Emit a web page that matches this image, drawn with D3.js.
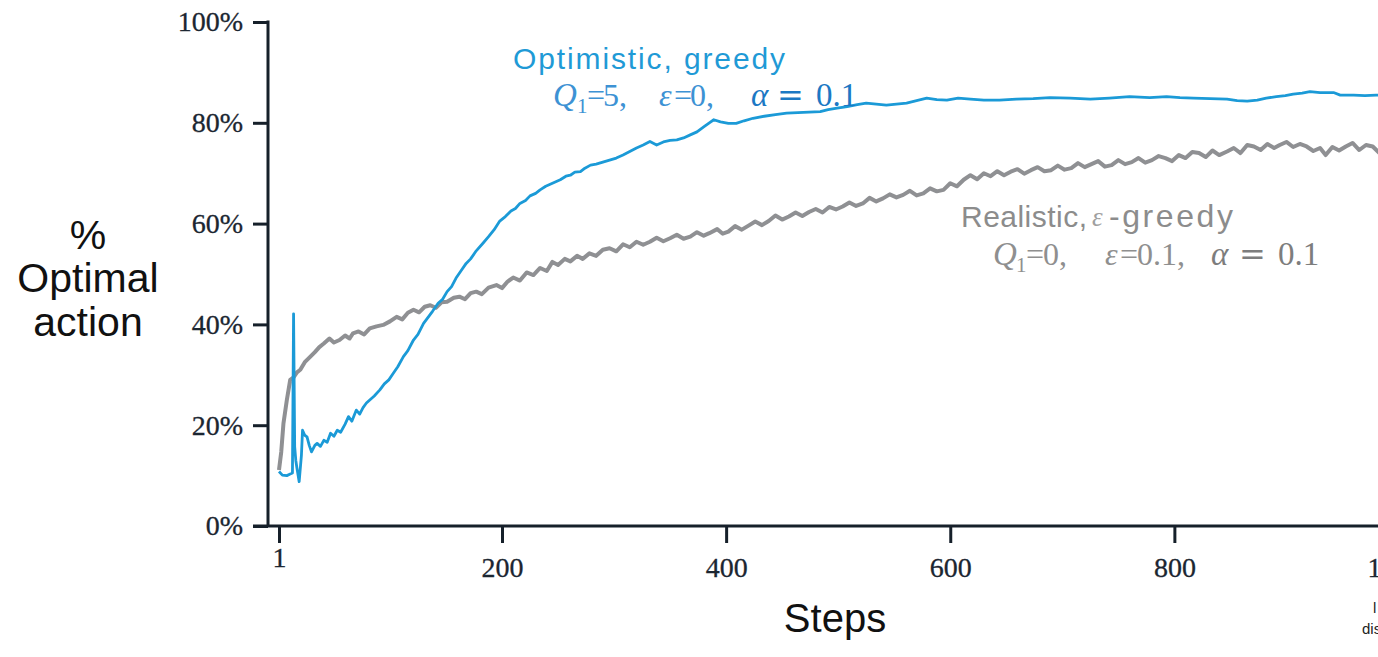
<!DOCTYPE html>
<html>
<head>
<meta charset="utf-8">
<script src="https://cdn.jsdelivr.net/npm/d3@7"></script>
<style>
body { margin: 0; background: #fff; }
svg { display: block; }
</style>
</head>
<body>
<svg></svg>
<script>
// ---- data (steps, % optimal action) ----
var optSteps = [1,4,8,11,13,14,15,16,17,19,21,22,24,26,28,30,33,35,38,41,44,47,50,53,56,60,63,66,70,73,76,79,82,86,91,95,99,103,107,112,116,121,125,130,134,138,143,147,151,155,159,163,168,172,177,183,188,193,198,203,208,212,216,221,225,230,234,239,243,248,252,257,261,265,270,274,279,284,290,296,302,308,314,320,326,332,338,344,350,356,362,368,374,380,385,389,395,402,409,416,424,434,444,454,464,474,484,491,499,508,517,525,534,543,552,561,570,579,588,597,607,618,630,644,659,674,689,707,725,742,760,778,793,805,817,832,847,856,865,874,882,891,899,906,914,921,930,942,948,960,970,980,990,1000];
var optVals = [10.8,10.1,10.0,10.3,10.5,42.1,15.7,13.0,11.5,8.8,14.0,19.0,18.0,17.7,16.0,14.7,16.0,16.4,15.8,17.0,16.6,18.4,17.8,19.0,18.6,20.2,21.7,20.8,23.0,22.2,23.5,24.4,25.0,25.8,27.0,28.2,29.0,30.3,31.6,33.6,34.8,36.9,38.0,40.2,41.4,42.6,44.2,45.0,46.5,47.5,49.2,50.5,52.1,53.0,54.6,56.1,57.4,58.8,60.5,61.4,62.5,63.0,64.0,64.6,65.5,66.0,66.7,67.4,67.8,68.3,68.7,69.4,69.6,70.2,70.3,71.0,71.6,71.8,72.2,72.6,73.0,73.6,74.3,75.0,75.6,76.3,75.6,76.2,76.5,76.6,77.0,77.6,78.2,79.2,80.0,80.6,80.2,79.9,79.9,80.4,80.9,81.3,81.6,81.9,82.0,82.1,82.2,82.6,82.9,83.2,83.6,83.9,83.7,83.5,83.7,83.9,84.4,84.9,84.6,84.5,84.9,84.7,84.5,84.5,84.7,84.8,85.0,84.9,84.7,84.9,85.2,85.0,85.2,85.0,84.9,84.8,84.7,84.4,84.3,84.5,84.9,85.2,85.4,85.7,85.9,86.2,86.0,86.0,85.5,85.5,85.4,85.5,85.4,85.5];

var realSteps = [1,3,5,8,11,14,17,20,24,29,33,37,41,46,50,55,60,64,67,72,77,82,88,94,100,106,111,116,121,126,131,136,141,146,151,157,162,167,172,177,182,188,195,200,205,210,216,222,228,234,240,245,250,256,261,267,272,278,284,290,296,302,308,314,320,326,332,338,344,350,356,362,368,374,380,385,392,397,402,408,414,420,426,432,438,444,450,456,462,468,474,480,486,492,498,504,510,516,522,528,534,540,546,552,558,564,570,576,582,588,594,600,606,612,618,624,630,636,642,648,654,660,666,672,678,684,690,696,702,708,714,720,726,732,738,744,750,756,762,768,774,780,786,792,798,804,810,816,822,828,834,840,847,853,859,865,871,877,883,889,894,900,906,912,918,924,930,935,941,947,953,959,965,971,977,983,989,995,1000];
var realVals = [11.1,14.7,20.4,25.0,29.0,29.5,30.5,31.0,32.5,33.6,34.5,35.5,36.2,37.2,36.4,36.9,37.8,37.2,38.2,38.6,38.0,39.2,39.6,39.9,40.6,41.5,41.0,42.3,42.9,42.4,43.5,43.8,43.3,44.4,44.5,45.3,45.5,45.0,46.2,46.5,46.0,47.3,47.8,47.2,48.5,49.3,48.7,50.3,49.8,51.2,50.6,52.4,51.8,53.0,52.5,53.6,53.0,54.1,53.6,54.8,55.1,54.5,55.9,55.3,56.4,55.8,56.4,57.2,56.5,57.1,57.8,57.0,57.4,58.3,57.6,58.1,58.9,58.0,58.4,59.5,58.8,59.6,60.4,59.7,60.5,61.6,60.8,61.4,62.2,61.5,62.3,62.9,62.2,63.3,62.8,63.4,64.2,63.5,64.0,65.1,64.4,65.0,65.8,65.2,65.7,66.5,65.6,66.0,67.0,66.4,66.7,68.0,67.4,68.7,69.6,68.8,70.0,69.4,70.4,69.6,70.3,70.8,69.9,70.6,71.2,70.4,70.6,71.5,70.7,71.0,72.0,71.2,71.8,72.4,71.3,71.6,72.6,71.8,72.2,73.0,72.1,72.6,73.4,73.0,72.4,73.6,73.0,74.2,74.0,73.2,74.5,73.6,74.3,75.0,74.0,75.6,75.3,74.6,75.8,75.0,75.6,76.2,75.2,75.8,75.3,74.4,75.0,73.6,75.2,74.5,75.3,76.0,74.6,75.6,75.3,74.0,75.5,74.8,75.2];

var yTicks = [0, 20, 40, 60, 80, 100];
var xTicks = [1, 200, 400, 600, 800, 1000];

var width = 1378;
var height = 657;
var axisColor = "#16202a";
var blue = "#1b9ad7";
var grey = "#8f9093";

var svg = d3.select("svg")
            .attr("width", width)
            .attr("height", height)

var x = d3.scaleLinear().domain([1, 1000]).range([279, 1398.5]);
var y = d3.scaleLinear().domain([0, 100]).range([526, 22]);
var axisX = 268;

// y axis
var yAxis = svg.append("g")
    .attr("transform", "translate(" + axisX + ",0)")
    .call(d3.axisLeft(y).tickValues(yTicks).tickFormat(function(d) { return d + "%"; })
          .tickSize(15).tickPadding(10).tickSizeOuter(0))
yAxis.select(".domain").remove();
yAxis.selectAll("line").attr("stroke", axisColor).attr("stroke-width", 3);
yAxis.selectAll("text")
    .style("font-family", "Liberation Serif")
    .style("font-size", "28px")
    .attr("fill", "#1b2631")
    .attr("stroke", "#1b2631").attr("stroke-width", 0.3)

// x axis
var xAxis = svg.append("g")
    .attr("transform", "translate(0," + y(0) + ")")
    .call(d3.axisBottom(x).tickValues(xTicks).tickSize(17).tickPadding(14).tickSizeOuter(0))
xAxis.select(".domain").remove();
xAxis.selectAll("line").attr("stroke", axisColor).attr("stroke-width", 3);
xAxis.selectAll("text")
    .style("font-family", "Liberation Serif")
    .style("font-size", "28px")
    .attr("fill", "#1b2631")
    .attr("stroke", "#1b2631").attr("stroke-width", 0.3)
    .attr("y", function(d) { return d == 1 ? 21 : 31; })

// axis lines
svg.append("line")
    .attr("x1", axisX).attr("x2", axisX)
    .attr("y1", y(100) - 1.5).attr("y2", y(0))
    .attr("stroke", axisColor).attr("stroke-width", 3)
svg.append("line")
    .attr("x1", axisX - 15).attr("x2", width)
    .attr("y1", y(0)).attr("y2", y(0))
    .attr("stroke", axisColor).attr("stroke-width", 3)

// series
var lineFunction = d3.line()
    .x(function(d) { return x(d[0]); })
    .y(function(d) { return y(d[1]); })

svg.append("path")
    .attr("d", lineFunction(d3.zip(realSteps, realVals)))
    .attr("stroke", grey)
    .attr("stroke-width", 4)
    .attr("stroke-linejoin", "round")
    .attr("fill", "none");

svg.append("path")
    .attr("d", lineFunction(d3.zip(optSteps, optVals)))
    .attr("stroke", blue)
    .attr("stroke-width", 2.8)
    .attr("stroke-linejoin", "round")
    .attr("fill", "none");

// axis titles
var yTitle = svg.append("text")
    .attr("text-anchor", "middle")
    .style("font-family", "Liberation Sans")
    .style("font-size", "41px")
    .attr("fill", "#111")
yTitle.append("tspan").attr("x", 88).attr("y", 249).text("%");
yTitle.append("tspan").attr("x", 88).attr("y", 292).text("Optimal");
yTitle.append("tspan").attr("x", 88).attr("y", 336).text("action");

svg.append("text")
    .attr("x", 835).attr("y", 632)
    .attr("text-anchor", "middle")
    .style("font-family", "Liberation Sans")
    .style("font-size", "40px")
    .attr("fill", "#111")
    .text("Steps")

// series labels, stretched to the width they take in the figure
function label(txt, x0, y0, len, color, size) {
    return svg.append("text")
        .attr("x", x0).attr("y", y0)
        .attr("textLength", len)
        .attr("lengthAdjust", "spacing")
        .style("font-family", "Liberation Sans")
        .style("font-size", (size || 30) + "px")
        .attr("fill", color)
        .text(txt)
}

// math glyphs placed one by one
function glyph(txt, x0, y0, color, opts) {
    opts = opts || {};
    return svg.append("text")
        .attr("x", x0).attr("y", y0)
        .style("font-family", opts.family || "Liberation Serif")
        .style("font-style", opts.italic ? "italic" : "normal")
        .style("font-size", (opts.size || 32) + "px")
        .attr("fill", color)
        .text(txt)
}

label("Optimistic, greedy", 513, 69, 272, "#1f9ad6");
var b1 = "#3d92d4", b2 = "#1c78c4";
glyph("Q", 553, 106, b1, {italic: true, size: 33});
glyph("1", 577, 113, b1, {size: 21});
glyph("=", 587, 106, b1);
glyph("5,", 603, 106, b1);
glyph("ε", 659, 106, b1, {italic: true});
glyph("=", 674, 106, b1);
glyph("0,", 690, 106, b1);
glyph("α", 751, 106, b2, {italic: true, size: 33});
glyph("=", 777, 106, b2, {size: 32, family: "DejaVu Serif"});
glyph("0.1", 816, 106, b2, {size: 33});

label("Realistic,", 961, 227, 126, "#8c8c8c");
glyph("ε", 1092, 226, "#a0a0a0", {italic: true, size: 27});
label("-greedy", 1109, 227, 124, "#8c8c8c", 32);
var g1 = "#8f8f8f", g2 = "#7d7d7d";
glyph("Q", 993, 265, g1, {italic: true, size: 33});
glyph("1", 1016, 272, g1, {size: 21});
glyph("=", 1026, 265, g1);
glyph("0,", 1043, 265, g1);
glyph("ε", 1105, 265, g1, {italic: true});
glyph("=", 1120, 265, g1);
glyph("0.1,", 1137, 265, g1);
glyph("α", 1211, 265, g2, {italic: true, size: 33});
glyph("=", 1239, 265, g2, {size: 32, family: "DejaVu Serif"});
glyph("0.1", 1278, 265, g2, {size: 33});

// cropped caption fragment at the lower right
svg.append("text").attr("x", 1373).attr("y", 613)
    .style("font-family", "Liberation Sans").style("font-size", "15px").attr("fill", "#222").text("l")
svg.append("text").attr("x", 1362).attr("y", 634)
    .style("font-family", "Liberation Sans").style("font-size", "15px").attr("fill", "#222").text("dis")
</script>
</body>
</html>
